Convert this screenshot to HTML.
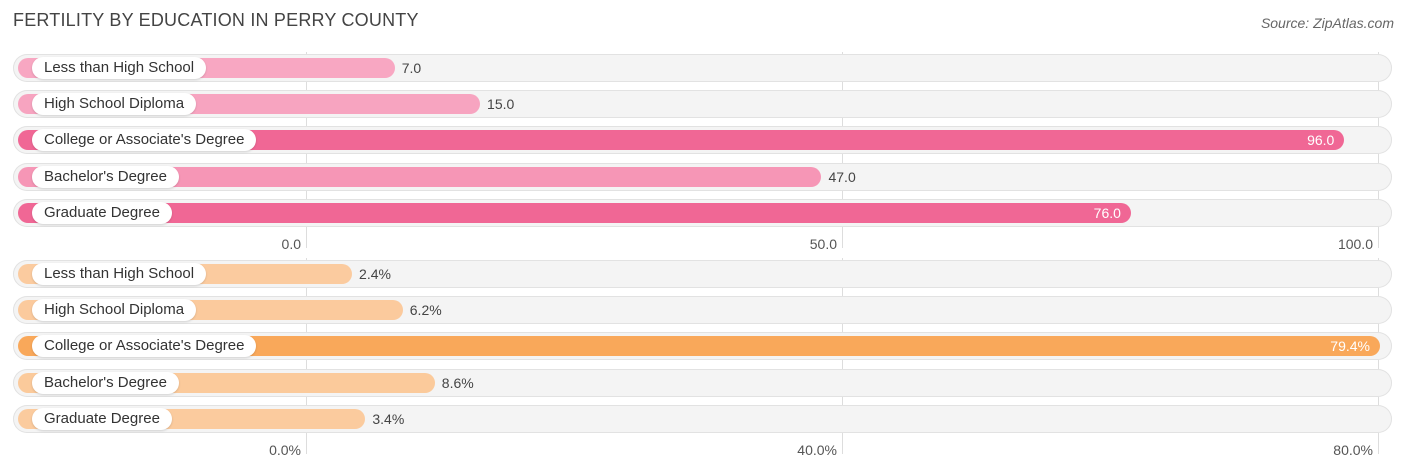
<!DOCTYPE html>
<html><head><meta charset="utf-8"><style>
body{margin:0;background:#fff;font-family:"Liberation Sans",sans-serif;}
#c{position:relative;width:1406px;height:475px;overflow:hidden;}
.t{position:absolute;left:13px;top:10px;font-size:18px;color:#444;letter-spacing:0.2px}
.src{position:absolute;right:12px;top:15px;font-size:14px;color:#666;font-style:italic}
.row{position:absolute;left:13px;width:1379px;height:28px;border-radius:14px;background:#f4f4f4;box-shadow:inset 0 0 0 1px #e2e2e2}
.bar{position:absolute;left:18px;height:20px;border-radius:10px}
.lab{position:absolute;left:32px;height:22px;line-height:22px;padding:0 12px;background:#fff;border-radius:11px;font-size:15px;color:#333;box-shadow:0 1px 2px rgba(0,0,0,.15)}
.val{position:absolute;font-size:14px;line-height:20px;color:#444}
.grid{position:absolute;width:1px;background:#ddd}
.tick{position:absolute;font-size:14px;color:#555;transform:translateX(-100%)}
</style></head><body>
<div id="c">
<div class="t">FERTILITY BY EDUCATION IN PERRY COUNTY</div>
<div class="src">Source: ZipAtlas.com</div>
</div>
<script>
const categories=["Less than High School","High School Diploma","College or Associate's Degree","Bachelor's Degree","Graduate Degree"];
const topValues=[7.0,15.0,96.0,47.0,76.0];
const bottomValues=[2.4,6.2,79.4,8.6,3.4];
const topTicks=[0,50,100];
const bottomTicks=[0,40,80];
const c=document.getElementById('c');
function mk(cls,name,css,txt){const e=document.createElement('div');e.className=cls;


Object.assign(e.style,css);if(txt!==undefined)e.textContent=txt;c.appendChild(e);return e;}
function mix(a,b,t){return 'rgb('+a.map((v,i)=>Math.round(v+(b[i]-v)*t)).join(',')+')';}
function panel(vals,ticks,y0,axisY,light,strong,fmt,prefix){
 const max=ticks[2];
 const gx=v=>306+v/max*1072;
 const bx=v=>320+v/max*(prefix==='top'?1067:1068);
 ticks.forEach((t,i)=>{mk('grid',prefix+'-gridline',{left:gx(t)+'px',top:(y0-16)+'px',height:(axisY-y0+28)+'px'});
  mk('tick',prefix+'-tick-label',{left:(gx(t)-5)+'px',top:axisY+'px'},fmt(t,true));});
 const vmax=Math.max(...vals);
 vals.forEach((v,i)=>{const y=y0+i*36.2;
  mk('row',prefix+'-row-bg',{top:(y-14)+'px'});
  const col=mix(light,strong,v/vmax>0.7?1:(v/vmax)*0.6);
  const end=bx(v);
  mk('bar',prefix+'-bar',{top:(y-10)+'px',width:(end-18)+'px',background:col});
  mk('lab',prefix+'-category-label',{top:(y-11)+'px'},categories[i]);
  const inside=v/vmax>0.7;
  if(inside)mk('val',prefix+'-value-label',{top:(y-10)+'px',left:(end-56)+'px',width:'46px',textAlign:'right',color:'#fff'},fmt(v));
  else mk('val',prefix+'-value-label',{top:(y-10)+'px',left:(end+7)+'px'},fmt(v));
 });
}
panel(topValues,topTicks,68,236,[248,170,196],[240,103,149],v=>v.toFixed(1),'top');
panel(bottomValues,bottomTicks,274,442,[251,204,160],[249,168,90],v=>v.toFixed(1)+'%','bottom');
</script>
</body></html>
